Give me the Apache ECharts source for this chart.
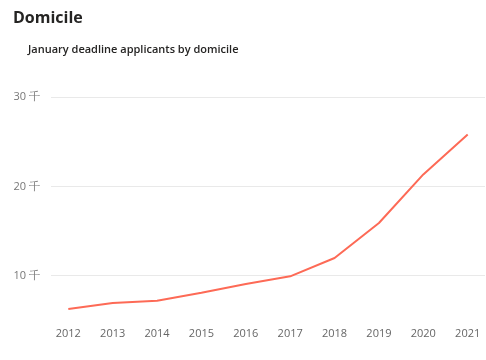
<!DOCTYPE html>
<html><head><meta charset="utf-8">
<script src="https://cdn.jsdelivr.net/npm/echarts@6/dist/echarts.min.js"></script>
<style>html,body{margin:0;padding:0;background:#fff}#c{width:486px;height:360px}</style>
</head><body><div id="c"></div>
<script>
const years = [2012,2013,2014,2015,2016,2017,2018,2019,2020,2021];
const applicants = [6280,6950,7210,8100,9070,9930,11980,15900,21340,25800];
const yTicks = [10000,20000,30000];
const title = 'Domicile';
const subtitle = 'January deadline applicants by domicile';

const chart = echarts.init(document.getElementById('c'), null, {renderer:'canvas'});
chart.setOption({
  backgroundColor:'#fff',
  animation:false,
  title:[
    {text:title,left:8,top:5,textStyle:{fontFamily:'Open Sans, sans-serif',fontSize:16,fontWeight:'bold',color:'#252423'}},
    {text:subtitle,left:23,top:39,textStyle:{fontFamily:'Open Sans, sans-serif',fontSize:11,fontWeight:600,color:'#252423'}}
  ],
  grid:{left:51,right:1,top:97,bottom:39.6,containLabel:false},
  xAxis:{
    type:'value',min:2011.61,max:2021.39,
    axisLine:{show:false},axisTick:{show:false,customValues:years},splitLine:{show:false},
    axisLabel:{customValues:years,formatter:v=>String(Math.round(v)),color:'#666',fontSize:11,margin:8,fontFamily:'Open Sans, sans-serif'}
  },
  yAxis:{
    type:'value',min:5000,max:30000,
    axisLine:{show:false},axisTick:{show:false,customValues:yTicks},
    splitLine:{show:true,lineStyle:{color:'#e9e9e9',width:1}},
    axisLabel:{customValues:yTicks,formatter:v=>(v/1000)+' 千',color:'#777',fontSize:11,margin:11,fontFamily:'Open Sans, sans-serif'}
  },
  series:[{type:'line',data:years.map((y,i)=>[y,applicants[i]]),showSymbol:false,
    lineStyle:{color:'#FD6A56',width:2},itemStyle:{color:'#FD6A56'}}]
});
</script></body></html>
